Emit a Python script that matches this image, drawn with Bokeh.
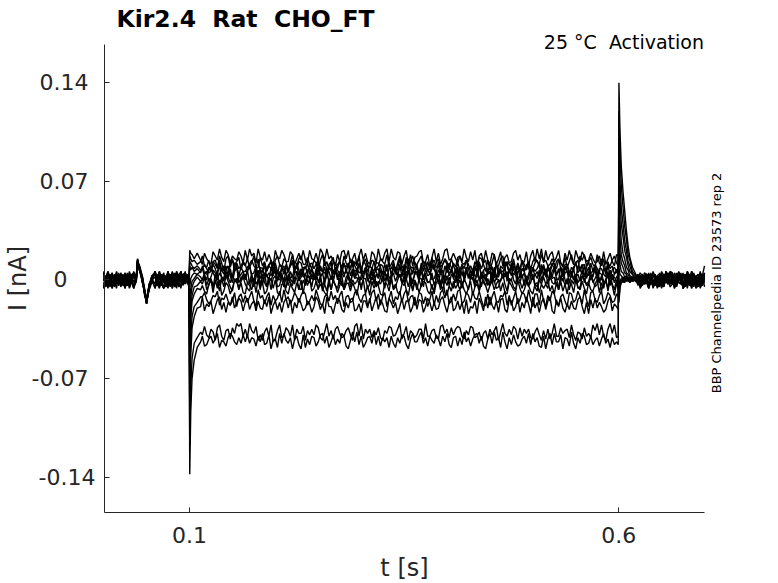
import math
from bokeh.plotting import figure
from bokeh.models import Range1d, FixedTicker, Label
from bokeh.embed import file_html
from bokeh.resources import INLINE

# sampling times (ms)
t_ms = ([2.5 * k for k in range(15)]                      # 0 .. 35
        + [38, 39.5, 42, 45, 48, 50, 53, 56]               # artefact
        + [60 + 2.5 * k for k in range(16)]                # 60 .. 97.5
        + [99.5, 100.3, 101.5, 103, 105.5, 109, 113]       # step onset
        + [115 + 2.5 * k for k in range(194)]              # 115 .. 597.5
        + [599.5, 600.3, 601.5, 603, 605, 607, 609, 611, 613, 616, 620]
        + [622.5 + 2.5 * k for k in range(32)])            # 622.5 .. 700

# currents (pA), one list per sweep
sweep_a_pA = [2, -3, -5, 1, 5, -1, -6, 4, -2, 3, -2, -4, 6, -1, 5,
    2, 14, 7, 0, -8, -16, -4, 1,
    5, -2, 3, 1, -1, -4, 6, 0, 5, -3, 6, 2, -1, 4, 5, -2,
    -1, 21, 19, 18, 15, 19, 14,
    11, 19, 15, 13, 11, 20, 17, 14, 22, 16, 13, 21, 18, 12, 17, 15, 14, 20, 17, 12,
    21, 14, 22, 17, 19, 12, 22, 16, 14, 20, 13, 18, 14, 10, 21, 16, 15, 21, 18, 13,
    13, 20, 18, 11, 15, 19, 14, 21, 14, 12, 21, 15, 14, 19, 13, 22, 19, 14, 22, 15,
    17, 13, 10, 18, 13, 20, 21, 15, 21, 12, 15, 19, 11, 17, 22, 14, 19, 13, 11, 20,
    18, 12, 22, 15, 14, 19, 22, 13, 22, 16, 14, 20, 19, 11, 17, 21, 11, 18, 10, 16,
    17, 20, 21, 12, 13, 18, 10, 16, 22, 13, 19, 11, 15, 21, 22, 14, 15, 19, 15, 12,
    17, 13, 22, 16, 13, 20, 14, 21, 10, 17, 19, 12, 21, 14, 11, 19, 18, 11, 15, 20,
    10, 16, 18, 12, 13, 19, 21, 14, 18, 11, 13, 20, 10, 17, 21, 13, 22, 15, 22, 12,
    21, 14, 18, 20, 13, 16, 21, 12, 10, 19, 14, 21, 15, 11, 21, 16, 13, 20, 17, 13,
    14, 19, 15, 12, 13, 17, 11, 20, 11, 15, 19, 13, 10, 18,
    17, -16, -6, -2, 0, 2, -1, 1, -2, 1, 0,
    1, 5, 3, -3, -2, -6, 4, -1, -4, 1, -1, 5, -5, 2, 0, 5,
    3, -2, 2, -1, 5, -2, -3, 2, -4, 1, -1, 2, 4, -2, 0, 5]

sweep_b_pA = [-5, 2, -5, -1, 3, 0, 3, 4, -3, -2, -6, 3, -2, 1, -6,
    -1, 12, 9, 2, -10, -14, -6, -1,
    6, -1, -5, 2, 3, -3, 6, 0, 5, -2, -6, 4, 1, -4, 3, 1,
    2, 17, 15, 13, 14, 11, 13,
    17, 10, 9, 14, 7, 13, 11, 8, 17, 12, 6, 15, 17, 9, 14, 11, 13, 16, 7, 12,
    10, 15, 9, 12, 17, 8, 9, 16, 10, 13, 6, 10, 14, 7, 14, 17, 11, 9, 15, 13,
    6, 12, 18, 9, 10, 15, 17, 11, 11, 16, 11, 8, 14, 12, 6, 14, 18, 10, 13, 7,
    13, 16, 6, 11, 13, 8, 17, 12, 9, 15, 9, 13, 10, 17, 7, 12, 15, 10, 9, 14,
    13, 8, 10, 15, 13, 11, 18, 9, 11, 14, 6, 12, 17, 10, 7, 16, 9, 13, 17, 11,
    11, 14, 17, 10, 7, 13, 7, 16, 7, 12, 15, 9, 11, 15, 13, 8, 6, 12, 9, 16,
    17, 12, 11, 14, 7, 10, 6, 13, 9, 16, 15, 11, 6, 14, 7, 12, 18, 9, 10, 15,
    17, 9, 13, 11, 9, 15, 7, 12, 7, 14, 6, 10, 13, 8, 13, 16, 13, 11, 18, 13,
    14, 10, 11, 15, 11, 8, 14, 12, 9, 16, 9, 13, 18, 11, 11, 7, 17, 14, 18, 10,
    13, 16, 11, 9, 18, 12, 10, 15, 6, 11, 10, 14, 17, 12,
    10, -13, -5, -1, 1, -2, 2, 0, -1, 2, -1,
    2, -3, -1, 5, 4, 2, 0, -3, 3, -5, -4, -2, 2, 1, 5, -1,
    -3, -1, 1, 5, -2, 2, 4, -3, 0, -3, -1, 3, 3, -6, -2, 1]

sweep_c_pA = [-3, 1, 2, -2, -6, 3, -1, 4, 2, -4, -3, 0, 5, 2, -5,
    3, 13, 6, -1, -9, -17, -3, 2,
    5, 0, 6, -3, -6, 2, -3, 4, -1, -5, -1, 3, 6, -2, 3, 1,
    -6, 13, 12, 10, 8, 10, 7,
    8, 11, 8, 5, 6, 13, 14, 9, 14, 7, 4, 10, 3, 12, 15, 6, 12, 8, 10, 13,
    11, 6, 11, 14, 10, 8, 15, 5, 7, 12, 7, 10, 8, 13, 8, 4, 11, 9, 4, 11,
    6, 10, 14, 9, 8, 13, 12, 6, 10, 4, 11, 12, 8, 11, 14, 7, 6, 14, 7, 9,
    7, 13, 12, 8, 14, 5, 11, 9, 12, 7, 14, 10, 7, 12, 4, 14, 11, 6, 10, 8,
    6, 12, 12, 9, 4, 11, 6, 13, 3, 10, 4, 8, 15, 7, 3, 12, 15, 9, 4, 13,
    8, 5, 10, 13, 11, 7, 8, 12, 14, 9, 10, 4, 11, 14, 11, 8, 15, 10, 6, 12,
    7, 11, 8, 14, 11, 6, 3, 10, 7, 13, 8, 12, 14, 5, 11, 9, 4, 12, 3, 10,
    8, 13, 10, 5, 8, 12, 7, 10, 6, 14, 11, 7, 11, 4, 8, 12, 14, 9, 6, 11,
    4, 10, 7, 12, 7, 13, 15, 8, 7, 11, 11, 6, 3, 9, 12, 14, 6, 10, 11, 5,
    3, 12, 6, 11, 8, 5, 15, 9, 4, 13, 8, 10, 4, 7,
    8, -10, -3, 0, -2, 1, 0, -1, 2, 0, 1,
    -1, 3, 2, -3, 0, -6, -2, 3, 4, -3, 1, -6, 3, -1, 0, -5,
    -3, 5, 2, 6, 1, -2, -1, 6, 3, -5, 0, -5, 2, -2, -4, 3]

sweep_d_pA = [-1, 2, 5, -3, -1, 0, 3, -4, 1, 4, -1, 1, -6, -2, 5,
    0, 15, 8, 1, -11, -15, -5, 0,
    5, -3, -6, 1, 3, -1, 1, 4, -2, 0, 5, -4, 2, -1, 5, 2,
    3, 10, 7, 9, 6, 8, 5,
    10, 5, 4, 9, 6, 11, 8, 3, 12, 6, 10, 4, 1, 8, 1, 12, 9, 3, 9, 6,
    1, 7, 9, 4, 5, 10, 2, 9, 8, 3, 8, 11, 12, 5, 12, 6, 2, 8, 10, 4,
    6, 10, 12, 5, 12, 7, 2, 9, 8, 12, 4, 8, 1, 6, 13, 3, 4, 9, 1, 11,
    13, 4, 9, 7, 4, 10, 12, 6, 4, 9, 13, 2, 4, 11, 8, 5, 6, 12, 1, 8,
    13, 6, 2, 11, 10, 4, 2, 8, 8, 12, 5, 3, 9, 7, 6, 10, 5, 9, 9, 4,
    10, 3, 12, 6, 13, 8, 4, 11, 8, 5, 13, 7, 1, 10, 5, 12, 9, 4, 1, 9,
    1, 11, 2, 9, 2, 6, 5, 10, 5, 12, 1, 7, 8, 4, 5, 9, 1, 11, 8, 6,
    6, 9, 12, 5, 12, 7, 4, 10, 1, 8, 6, 11, 9, 3, 9, 6, 8, 12, 4, 10,
    2, 8, 5, 11, 12, 4, 6, 9, 2, 10, 6, 3, 9, 7, 13, 5, 8, 11, 2, 9,
    13, 5, 6, 10, 2, 8, 8, 4, 2, 11, 2, 7, 9, 6,
    9, -6, -1, 1, 2, -1, 1, 0, -2, 1, -1,
    3, -5, -1, 3, 4, 1, 0, -3, 2, -5, 5, -3, -4, 2, -1, 2,
    3, -2, 1, -2, -2, 5, -5, 2, 4, -3, 2, -3, 0, -3, 3, -2]

sweep_e_pA = [1, -4, -2, 3, 2, -1, 6, 0, -2, 2, -5, -3, 3, -1, 6,
    1, 11, 10, 3, -7, -16, -7, -2,
    -2, 4, -5, 1, 5, -2, -6, 3, -6, 2, 2, -1, -6, 4, 3, 0,
    2, -5, 1, 3, 5, 4, 6,
    8, 3, 0, 7, 10, 5, 2, 6, 10, 1, 0, 8, 10, 4, 2, 9, 10, 2, 4, 6,
    6, 9, 11, 2, -1, 8, 4, 1, 6, 10, 2, 5, 3, 7, 6, 0, 3, 9, 7, 4,
    -1, 6, 2, 9, 10, 3, 8, 4, 4, 7, 8, 1, 0, 8, 3, 10, 6, 5, 2, 8,
    7, 0, 7, 4, 2, 9, 4, 6, 11, 3, 8, 2, 8, 5, 6, 1, 8, 4, 2, 9,
    4, 7, 8, 2, -1, 5, 11, 1, 3, 9, 7, 4, 11, 2, 11, 0, 11, 3, 6, 8,
    11, 2, 6, 0, 8, 3, 4, 8, 11, 1, 7, 4, 7, 0, 11, 3, 7, 2, 8, 1,
    7, 4, 2, 9, 8, 1, 8, 3, 2, 10, 4, 6, -1, 8, 8, 2, 7, 0, 7, 5,
    3, 9, -1, 7, 3, 10, 6, 1, 3, 8, 6, 0, 4, 9, 8, 3, 6, 2, 11, 4,
    4, 8, 6, 2, 8, 1, 0, 9, 3, 7, 10, 3, 2, 8, 0, 10, 8, 4, 10, 1,
    6, 3, 2, 9, 6, 1, 0, 8, 7, 2, 7, 0, 4, 6,
    3, 8, 4, 3, 1, 2, -1, 1, 0, -1, 2,
    -4, 2, 0, 3, 4, -3, -3, 2, 3, -2, -5, 1, 2, -1, 4, -1,
    1, -2, 5, -2, -3, -2, -1, 5, -2, 6, 3, -6, -4, 5, -1, 2]

sweep_f_pA = [1, -3, 6, 2, -1, -5, 4, 1, -2, -2, 3, 0, -4, 3, 5,
    -2, 13, 7, 0, -10, -13, -4, 1,
    -3, 2, 6, -1, -6, 3, 1, -4, 2, 0, -2, 4, 5, -3, -2, 1,
    -3, -15, -6, -1, 1, 4, 2,
    0, 5, 6, -1, 2, 7, 5, 0, 5, 2, 1, 8, 9, 3, -2, 6, 9, -2, 1, 4,
    0, 7, -3, 4, -3, 6, 1, 8, -3, 2, 4, -1, 9, 3, 9, 1, 0, 5, -2, 8,
    8, 1, -2, 5, 6, -1, 2, 7, -2, 4, 1, 8, 4, 0, 9, 2, 5, -3, 5, 6,
    0, 6, 9, 3, -3, 5, 2, 8, 1, -2, 4, 7, 6, 2, 0, 5, 9, 1, -3, 7,
    -3, 4, 1, 7, 1, 6, 2, -1, 0, 8, 9, 2, 4, -2, 0, 6, 5, 3, -3, 5,
    4, -1, 9, 2, 4, 7, 5, 0, 1, 5, -3, 6, 6, -2, 1, 4, 8, 1, -2, 7,
    1, 6, 0, 8, 1, 4, 0, 7, 8, -1, 5, 2, 0, 5, 6, -2, 9, 3, 2, 8,
    1, 5, 2, 7, 9, 0, -3, 6, 6, 2, 5, -2, 1, 8, 0, 4, 1, 7, 1, 3,
    8, 2, 0, 6, 9, 3, 8, -1, 8, 0, -3, 5, 6, 1, 4, -2, 1, 7, -2, 5,
    9, 0, 4, 7, 0, 5, 4, -1, -2, 6, -3, 4, -2, 2,
    4, 18, 11, 6, 5, 2, 3, 0, 1, -1, 0,
    1, -3, -4, 2, 0, 2, 3, -5, 4, -2, 1, -5, -2, 6, 0, 6,
    3, -3, -1, 5, 2, -3, -2, 6, 1, -6, 4, -3, -3, 2, 0, 3]

sweep_g_pA = [5, -1, 5, 0, -6, 3, 2, -2, 3, -4, 1, 2, -3, 1, -6,
    2, 14, 9, -2, -8, -15, -6, 3,
    5, -4, 3, -2, 2, 0, 2, -5, 5, -1, 6, -3, -3, 2, 1, -1,
    -3, -27, -12, -5, -1, 2, -1,
    0, 4, -4, 1, 0, -3, -2, 5, -4, 2, -1, 6, 2, -2, 3, 0, -2, 5, -1, 3,
    4, -2, -1, 3, -5, 2, 7, -3, 2, 5, -5, 1, 0, 4, 6, -1, 6, 0, -5, 2,
    -4, 1, 3, -3, 6, 0, 6, 2, 4, -1, -2, 4, 0, 6, -2, 3, -5, 1, 7, -2,
    3, -1, 7, 0, 6, -4, -5, 2, 4, -2, 6, 1, 2, -3, 3, 5, 7, -1, 3, 0,
    4, -3, -4, 2, 6, -1, 4, -4, 2, 5, -1, 3, 4, -2, 3, 0, 7, -3, 0, 4,
    6, 0, -5, 3, 4, -2, -1, 5, -4, 1, 4, -3, 3, -1, 3, -4, 4, 2, 7, -2,
    4, -2, -1, 5, 4, 0, 7, -3, 7, 2, -5, 3, 4, -4, -1, 6, -2, 1, 0, -1,
    4, 2, 6, -1, 0, 5, 3, -2, -2, 4, -4, 1, -5, 3, 4, -3, -5, 2, -1, 5,
    6, -3, 6, 1, 2, -4, -5, 3, -1, 5, 6, -2, 4, 0, 2, 4, -1, 3, 0, -3,
    -1, 5, -2, 1, 4, -2, 3, -4, 0, 3, -4, 2, 2, -1,
    0, 30, 19, 12, 9, 5, 4, 1, 2, -1, 1,
    2, -5, -1, 3, 4, -5, 1, -5, -2, 2, 0, 6, 3, 2, 5, -3,
    2, -6, -1, 3, 4, -6, 3, -2, 1, -3, 5, -3, 2, -3, 4, -5]

sweep_h_pA = [-6, 3, -1, 4, -2, 1, -3, 5, -5, 0, 2, -2, -3, 4, 2,
    0, 12, 6, 2, -9, -17, -5, -1,
    6, -2, 1, 3, -1, -5, 5, 0, 2, -4, -3, 1, 2, -1, -3, 4,
    2, -40, -20, -11, -5, -4, -1,
    -3, 2, -7, -4, 1, -6, 4, -2, -8, 1, -5, 3, -1, -5, -8, 0, -1, -6, -1, 2,
    -3, -6, -8, 0, 1, -3, 0, -7, 4, -2, -5, 2, -7, 1, 3, -5, -4, 3, -1, -6,
    4, -2, -4, 2, 1, -6, -7, 0, -4, 3, 1, -5, 4, -1, -7, 2, -8, -3, -8, 1,
    -7, 0, -4, -6, 1, 3, -7, -2, 4, -5, 0, -3, -1, 2, -7, 1, 1, -6, -3, 2,
    0, -5, -1, -3, 1, -6, 3, -2, 3, -7, -5, 0, 4, -2, -4, 1, -5, 2, -8, -1,
    -7, 1, 1, -5, 3, -2, -1, -6, -7, 2, 4, -3, -7, 0, -4, 2, -3, -6, 3, -4,
    0, -6, 1, -3, -7, 2, 1, -5, 0, -7, 4, -2, -4, 1, -4, 3, -1, -6, -5, 0,
    4, -3, -8, 1, 0, -5, -7, 2, -1, -6, -1, 3, -4, -2, 4, -5, -8, 0, -3, 2,
    -3, -6, 4, -2, -3, 2, -7, 0, 1, -4, 1, -7, 0, -3, 3, -6, -5, 2, 1, -4,
    -3, 2, 0, -5, -3, 1, -8, -2, -1, -6, 4, -3, -7, 0,
    -4, 44, 29, 18, 13, 10, 5, 4, 1, 2, -1,
    -3, 2, 4, -2, 1, -5, 3, -2, -4, 2, 2, -5, 4, -1, -3, -1,
    3, -2, 0, 5, 2, -5, 4, -1, -4, 6, -2, 3, -5, 1, -2, 5]

sweep_i_pA = [3, 0, -6, 2, -5, 4, -3, 1, -3, 3, -6, 5, -2, 2, -1,
    1, 13, 8, 0, -12, -14, -3, 0,
    -6, 2, 5, -3, -6, 1, 1, -4, 5, -1, 5, -5, 3, -2, 6, -3,
    1, -56, -28, -15, -10, -6, -7,
    -4, -8, -10, -3, 0, -9, 0, -6, 0, -11, -8, -2, -4, -10, -6, 0, 1, -7, -2, -9,
    -10, -2, -4, -7, 0, -9, 1, -5, -2, -10, -8, -1, 1, -6, 0, -9, -11, -3, -3, -8,
    -10, -3, -6, -9, -2, -7, 0, -10, 0, -4, 1, -8, -6, -1, -6, -3, -6, -9, -11, -2,
    -7, 0, -4, -9, -4, -1, -7, -3, -2, -8, -2, -6, -11, -2, -4, 0, -10, -4, -11, -1,
    -6, -1, -4, -10, -11, -2, -3, -8, 1, -6, -3, -9, -10, -3, 0, -7, -11, -2, -7, 0,
    -4, -9, -4, -1, -2, -8, -10, -3, -10, -2, 0, -7, 1, -9, -11, -4, -8, -1, -6, -3,
    -7, -2, -7, -10, -6, -1, -11, -5, -3, -8, -3, 0, -4, -9, -4, -1, -7, -3, 0, -8,
    -2, -9, -10, -1, -4, -7, -8, 0, -6, -10, -7, -2, -4, -8, -10, -3, -2, -9, -3, -6,
    -3, 0, -8, -4, -10, -2, -7, -1, -8, -3, -10, -1, -3, -9, 0, -5, -7, -1, -6, -10,
    -2, -7, -8, -3, 0, -9, -2, -6, 1, -8, 0, -4, -11, -2,
    -7, 60, 41, 28, 19, 15, 9, 7, 3, 2, -1,
    3, -1, -4, -1, 4, 1, -3, -1, -2, 3, 4, -1, -5, 6, 2, -3,
    5, -1, -4, 2, 1, -5, -2, 5, -4, 1, -5, 2, -2, 6, -4, 1]

sweep_j_pA = [-2, -5, 2, 3, -1, -4, 5, 0, 2, -3, -1, 4, -1, 1, -1,
    -1, 15, 7, 1, -8, -16, -6, 2,
    6, 1, -3, 4, -1, 3, -5, 2, -6, 5, -1, -2, -1, 3, -2, 0,
    -3, -75, -41, -26, -19, -16, -12,
    -12, -9, -14, -17, -15, -11, -12, -8, -18, -13, -14, -10, -15, -18, -15, -9, -19, -12, -10, -16,
    -11, -16, -12, -8, -15, -19, -7, -13, -11, -17, -12, -9, -18, -11, -15, -13, -8, -16, -7, -14,
    -12, -17, -14, -9, -12, -16, -11, -8, -10, -18, -15, -11, -15, -7, -12, -17, -18, -12, -10, -15,
    -8, -14, -11, -17, -11, -8, -19, -12, -11, -16, -15, -9, -7, -13, -16, -11, -10, -18, -15, -9,
    -7, -15, -10, -18, -12, -9, -19, -13, -8, -17, -12, -14, -8, -16, -10, -7, -16, -12, -11, -18,
    -16, -9, -10, -17, -12, -19, -14, -8, -18, -11, -16, -9, -7, -13, -7, -17, -15, -10, -15, -8,
    -7, -17, -15, -9, -11, -16, -8, -13, -14, -8, -14, -19, -18, -10, -18, -12, -8, -15, -16, -11,
    -12, -8, -18, -11, -18, -13, -8, -17, -14, -9, -10, -16, -7, -14, -19, -10, -10, -18, -7, -15,
    -19, -11, -15, -8, -10, -17, -18, -12, -10, -15, -19, -9, -10, -16, -14, -8, -12, -17, -7, -14,
    -19, -9, -8, -14, -16, -11, -8, -17, -14, -9, -11, -16, -15, -10,
    -12, 80, 57, 40, 31, 21, 16, 10, 6, 4, 0,
    2, -6, -3, 3, 0, 3, 4, -5, 1, -2, 3, -1, -4, -1, -2, 6,
    5, -1, -4, 3, 2, -6, 4, -1, -3, 6, -2, 1, -5, 2, 3, 1]

sweep_k_pA = [5, -3, -1, -5, 2, 0, 3, -4, 5, -2, 5, 0, 1, 3, -6,
    2, 12, 9, -1, -10, -15, -4, -2,
    6, -4, 5, 0, 3, -5, -1, 2, -2, 3, -2, -3, 6, -1, -1, 4,
    -1, -93, -53, -34, -26, -20, -19,
    -12, -22, -17, -19, -15, -24, -19, -14, -12, -21, -16, -23, -16, -18, -12, -20, -16, -13, -15, -22,
    -16, -13, -21, -17, -15, -22, -15, -20, -21, -14, -19, -12, -24, -18, -15, -21, -16, -23, -16, -13,
    -20, -14, -24, -16, -20, -13, -17, -22, -20, -15, -17, -23, -19, -12, -15, -21, -17, -24, -12, -19,
    -19, -24, -17, -13, -15, -21, -23, -16, -20, -14, -13, -22, -21, -17, -23, -15, -15, -20, -13, -22,
    -17, -12, -21, -14, -17, -22, -23, -13, -16, -20, -16, -24, -19, -13, -21, -15, -15, -23, -19, -12,
    -21, -14, -15, -23, -19, -13, -16, -22, -16, -21, -20, -14, -12, -18, -23, -16, -12, -22, -20, -15,
    -21, -16, -24, -14, -24, -19, -20, -15, -24, -13, -17, -22, -12, -20, -12, -18, -21, -15, -23, -14,
    -13, -21, -23, -14, -15, -22, -19, -13, -23, -16, -20, -12, -17, -24, -12, -20, -16, -23, -16, -13,
    -21, -15, -12, -22, -24, -14, -19, -13, -20, -23, -17, -21, -15, -20, -21, -14, -12, -19, -24, -16,
    -24, -14, -20, -13, -20, -16, -19, -23, -21, -15, -12, -22, -17, -19,
    -21, 97, 71, 51, 40, 28, 21, 13, 10, 4, 2,
    4, -3, 2, -3, 3, -5, 5, -3, -4, 1, 2, -1, 4, -1, -3, 5,
    -2, 3, -5, 3, 3, -6, -4, 2, -2, 2, 4, -1, -1, 3, -3, 5]

sweep_l_pA = [-6, 2, 6, -2, -5, 3, 1, -3, 5, 0, 5, -4, -1, 4, 2,
    0, 14, 6, 3, -9, -14, -7, 1,
    -6, 1, 3, -4, -1, 2, 6, -2, 6, 0, 5, -5, 5, -3, 3, -1,
    -5, -118, -76, -56, -45, -41, -37,
    -39, -33, -39, -41, -35, -37, -43, -34, -32, -40, -43, -36, -35, -42, -34, -38, -31, -33, -31, -40,
    -35, -41, -31, -36, -38, -33, -43, -39, -43, -37, -34, -40, -32, -44, -42, -36, -32, -41, -40, -34,
    -36, -40, -32, -43, -35, -38, -38, -33, -43, -36, -39, -35, -39, -32, -34, -41, -43, -37, -31, -40,
    -36, -42, -35, -33, -38, -41, -40, -36, -34, -39, -43, -33, -31, -40, -31, -42, -35, -38, -35, -41,
    -36, -39, -34, -41, -43, -36, -38, -33, -34, -40, -39, -35, -31, -42, -38, -33, -43, -36, -38, -41,
    -39, -35, -35, -42, -31, -40, -40, -36, -35, -41, -42, -33, -32, -38, -35, -41, -34, -39, -35, -33,
    -34, -40, -42, -36, -39, -33, -34, -41, -40, -37, -43, -38, -36, -42, -35, -39, -36, -33, -43, -37,
    -31, -38, -40, -35, -39, -33, -35, -42, -34, -40, -35, -38, -35, -41, -42, -37, -34, -39, -43, -36,
    -42, -35, -42, -38, -31, -40, -40, -34, -38, -36, -35, -41, -32, -39, -43, -37, -38, -42, -34, -40,
    -38, -41, -32, -36, -31, -39, -32, -40, -43, -35, -31, -38, -32, -41,
    -40, 120, 91, 67, 52, 38, 29, 18, 14, 6, 3,
    2, -3, 4, -1, 1, -6, 3, -6, -2, 3, -4, 2, 4, 1, 2, -3,
    0, -5, -2, 3, 3, -6, -3, 1, -2, 3, 4, 1, 2, -5, -1, 3]

sweep_m_pA = [6, -3, 3, 0, 5, -4, 5, 1, -2, 3, -1, 2, -5, -1, 2,
    1, 13, 8, 0, -11, -17, -5, 0,
    2, -4, -3, 4, 1, -2, 2, 0, -3, 3, -1, -5, 6, 1, -1, 2,
    -2, -138, -93, -70, -57, -48, -44,
    -40, -47, -46, -42, -40, -45, -42, -38, -48, -43, -44, -47, -41, -38, -40, -44, -46, -41, -45, -39,
    -44, -39, -45, -41, -42, -47, -40, -44, -38, -46, -45, -39, -49, -43, -42, -48, -38, -45, -38, -43,
    -45, -41, -49, -42, -40, -46, -49, -39, -48, -42, -46, -40, -41, -47, -44, -39, -38, -45, -40, -48,
    -44, -39, -46, -42, -45, -38, -40, -47, -49, -43, -37, -44, -37, -46, -40, -48, -45, -41, -40, -45,
    -37, -46, -40, -47, -41, -44, -41, -48, -40, -45, -48, -41, -45, -39, -40, -46, -49, -42, -38, -44,
    -44, -40, -37, -45, -41, -47, -40, -43, -45, -39, -42, -47, -40, -44, -38, -46, -48, -41, -40, -47,
    -41, -46, -37, -44, -41, -47, -42, -39, -38, -45, -40, -47, -49, -42, -38, -45, -37, -43, -41, -48,
    -37, -44, -49, -41, -46, -39, -44, -47, -46, -42, -40, -45, -38, -46, -38, -44, -41, -47, -48, -40,
    -49, -42, -38, -46, -38, -44, -44, -39, -49, -41, -42, -47, -37, -45, -49, -41, -45, -38, -40, -46,
    -45, -40, -46, -43, -41, -47, -42, -38, -45, -42, -48, -41, -46, -44,
    -46, 140, 106, 81, 63, 49, 35, 24, 16, 9, 4,
    -2, 3, -4, 1, 0, 5, -3, 6, 2, -6, -1, 2, -4, 6, 0, 3,
    4, -6, 3, -1, 2, -6, 1, -6, 3, -6, 2, -3, -1, 5, 3, 10]

sweeps_pA = [sweep_a_pA, sweep_b_pA, sweep_c_pA, sweep_d_pA, sweep_e_pA,
             sweep_f_pA, sweep_g_pA, sweep_h_pA, sweep_i_pA, sweep_j_pA,
             sweep_k_pA, sweep_l_pA, sweep_m_pA]

# axis extents (data) and ticks
t_lim = (0.001, 0.7)
i_lim = (-0.1652, 0.1672)
x_ticks = [0.1, 0.6]
x_tick_labels = ["0.1", "0.6"]
y_ticks = [-0.14, -0.07, 0, 0.07, 0.14]
# figure/punctuation spaces pad the labels so that they sit as in the reference
y_tick_labels = ["-0.14", "-0.07\u2008", "0\u2007\u2007", "0.07\u2008", "0.14\u2008"]

NB = "\u00a0"
title_text = "Kir2.4" + NB + " Rat" + NB + " CHO_FT"
condition_text = "25 \u00b0C" + NB + " Activation"
side_text = "BBP Channelpedia ID 23573 rep 2"
x_label = "t [s]"
y_label = "I [nA]"

for s in sweeps_pA:
    assert len(s) == len(t_ms), (len(s), len(t_ms))

t_s = [v / 1000.0 for v in t_ms]

FONT = "DejaVu Sans"
AX = "#262626"

# the frame covers the whole canvas; the axes are pinned at the data limits
p = figure(width=778, height=582, title=None,
           x_range=Range1d(-0.120156, 0.786181), y_range=Range1d(-0.214916, 0.198436),
           output_backend="svg", toolbar_location=None,
           min_border_left=0, min_border_right=0,
           min_border_top=0, min_border_bottom=0)
p.outline_line_color = None
p.xgrid.visible = False
p.ygrid.visible = False
p.background_fill_color = "white"
p.border_fill_color = "white"

for s in sweeps_pA:
    p.line(t_s, [v / 1000.0 for v in s], line_color="black", line_width=1.4)

xa = p.xaxis[0]
ya = p.yaxis[0]
xa.fixed_location = i_lim[0]
ya.fixed_location = t_lim[0]
xa.bounds = t_lim
ya.bounds = i_lim
xa.ticker = FixedTicker(ticks=x_ticks)
xa.major_label_overrides = dict(zip(x_ticks, x_tick_labels))
ya.ticker = FixedTicker(ticks=y_ticks)
ya.major_label_overrides = dict(zip(y_ticks, y_tick_labels))
for ax in (xa, ya):
    ax.axis_line_color = AX
    ax.axis_line_width = 1
    ax.major_tick_line_color = AX
    ax.major_tick_in = 5
    ax.major_tick_out = 0
    ax.minor_tick_line_color = None
    ax.major_label_text_font = FONT
    ax.major_label_text_font_size = "22px"
    ax.major_label_text_color = AX
    ax.axis_label_text_font = FONT
    ax.axis_label_text_font_size = "24px"
    ax.axis_label_text_font_style = "normal"
    ax.axis_label_text_color = AX
xa.major_label_standoff = 15
ya.major_label_standoff = 9
xa.axis_label = x_label
ya.axis_label = y_label
xa.axis_label_standoff = 7
ya.axis_label_standoff = -3

p.add_layout(Label(x=0.01498, y=0.185297, text=title_text, text_font=FONT,
                   text_font_style="bold", text_font_size="23.5px",
                   text_color="black", text_align="left", text_baseline="middle"))
p.add_layout(Label(x=0.69940, y=0.169033, text=condition_text, text_font=FONT,
                   text_font_size="19px", text_color="black",
                   text_align="right", text_baseline="middle"))
p.add_layout(Label(x=0.71395, y=-0.002203, text=side_text, text_font=FONT,
                   text_font_size="13px", text_color="black", angle=math.pi / 2,
                   text_align="center", text_baseline="middle"))

open("out.html", "w").write(file_html(p, INLINE))
